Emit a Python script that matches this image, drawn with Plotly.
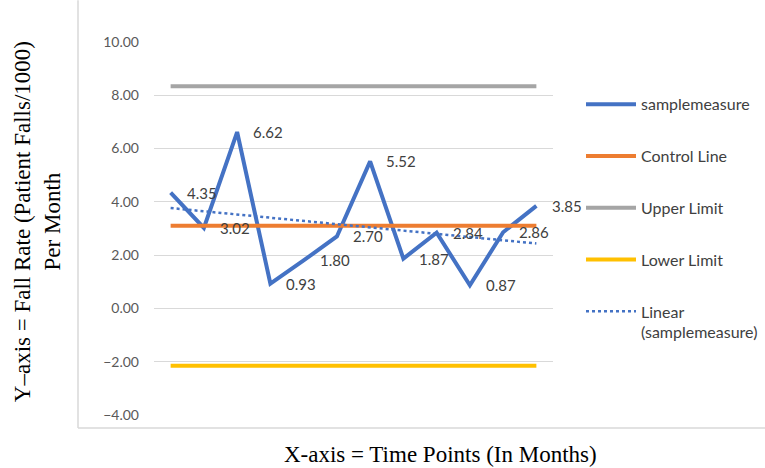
import numpy as np
import plotly.graph_objects as go

# Monthly fall rate (patient falls per 1000) and control-chart limits
months = list(range(1, 13))
sample_measure = [4.35, 3.02, 6.62, 0.93, 1.80, 2.70, 5.52, 1.87, 2.84, 0.87, 2.86, 3.85]
control_line = 3.10
upper_limit = 8.34
lower_limit = -2.15
y_ticks = [-4, -2, 0, 2, 4, 6, 8, 10]

BLUE = "#4472C4"
ORANGE = "#ED7D31"
GRAY = "#A5A5A5"
YELLOW = "#FFC000"
SANS = "Lato, 'Open Sans', sans-serif"
SERIF = "Liberation Serif, serif"

# least-squares trend of the sample measure
slope, intercept = np.polyfit(months, sample_measure, 1)
trend = [slope * m + intercept for m in months]

fig = go.Figure()
fig.add_trace(go.Scatter(x=months, y=sample_measure, mode="lines", name="samplemeasure",
                         line=dict(color=BLUE, width=4), legendgroup="a"))
fig.add_trace(go.Scatter(x=months, y=[control_line] * len(months), mode="lines", name="Control Line",
                         line=dict(color=ORANGE, width=4), legendgroup="b"))
fig.add_trace(go.Scatter(x=months, y=[upper_limit] * len(months), mode="lines", name="Upper Limit",
                         line=dict(color=GRAY, width=4), legendgroup="c"))
fig.add_trace(go.Scatter(x=months, y=[lower_limit] * len(months), mode="lines", name="Lower Limit",
                         line=dict(color=YELLOW, width=4), legendgroup="d"))
fig.add_trace(go.Scatter(x=months, y=trend, mode="lines", name="Linear<br>(samplemeasure)",
                         line=dict(color=BLUE, width=2.5, dash="dot"), legendgroup="e"))

# value labels to the right of each point
for m, v in zip(months, sample_measure):
    fig.add_annotation(x=m, y=v, text=f"{v:.2f}", showarrow=False, xanchor="left",
                       yanchor="middle", xshift=14,
                       font=dict(family=SANS, size=15, color="#404040"))

# axis titles
fig.add_annotation(xref="paper", yref="paper", x=(440 - 154) / 399, y=-(455 - 415) / 373.3,
                   text="X-axis = Time Points (In Months)", showarrow=False,
                   xanchor="center", yanchor="middle",
                   font=dict(family=SERIF, size=23, color="#000000"))
fig.add_annotation(xref="paper", yref="paper", x=(37 - 154) / 399, y=(415 - 222) / 373.3,
                   text="Y–axis = Fall Rate (Patient Falls/1000)<br>Per Month", showarrow=False,
                   textangle=-90, xanchor="center", yanchor="middle",
                   font=dict(family=SERIF, size=23, color="#000000"))

# chart-area border (left and bottom)
fig.add_shape(type="line", xref="paper", yref="paper",
              x0=(78 - 154) / 399, x1=(765 - 154) / 399, y0=-(428 - 415) / 373.3, y1=-(428 - 415) / 373.3,
              line=dict(color="#D9D9D9", width=1.5))
fig.add_shape(type="line", xref="paper", yref="paper",
              x0=(78 - 154) / 399, x1=(78 - 154) / 399, y0=-(428 - 415) / 373.3, y1=415 / 373.3,
              line=dict(color="#D9D9D9", width=1.5))

fig.update_layout(
    width=765, height=468,
    margin=dict(l=154, r=212, t=42, b=53, autoexpand=False),
    paper_bgcolor="white", plot_bgcolor="white",
    showlegend=True,
    legend=dict(x=(581 - 154) / 399, y=(415 - 87) / 373.3, xanchor="left", yanchor="top",
                font=dict(family=SANS, size=16, color="#404040"), tracegroupgap=28,
                itemwidth=50, valign="top", bgcolor="rgba(0,0,0,0)"),
    xaxis=dict(range=[0.5, 12.5], showgrid=False, showticklabels=False, zeroline=False,
               showline=False, ticks=""),
    yaxis=dict(range=[-4, 10], tickvals=y_ticks, tickformat=".2f", showgrid=True,
               gridcolor="#D9D9D9", gridwidth=1, zeroline=False, showline=False, ticks="",
               ticklabelstandoff=14,
               tickfont=dict(family=SANS, size=14, color="#595959")),
)

fig.write_html("out.html")
